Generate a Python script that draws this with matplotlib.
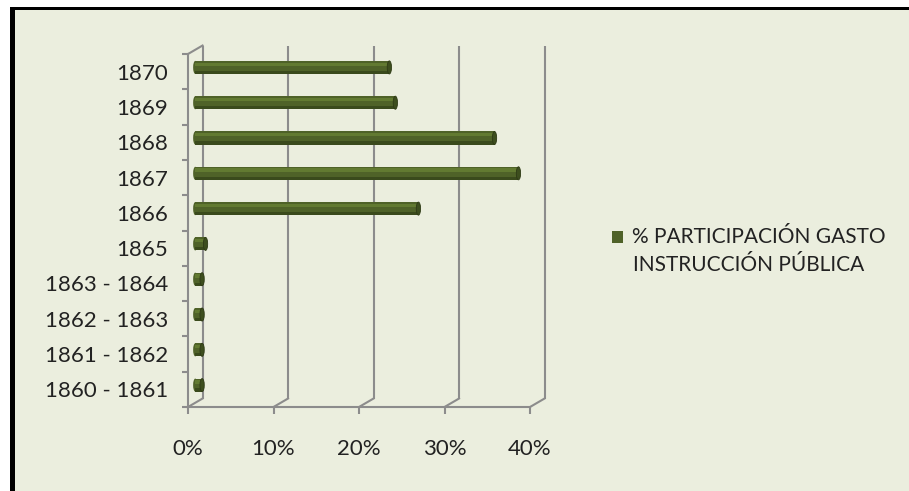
import matplotlib
matplotlib.use("Agg")
import matplotlib.pyplot as plt
from matplotlib.patches import Rectangle, Ellipse

# data, bottom to top as drawn
periods = ["1860 - 1861", "1861 - 1862", "1862 - 1863", "1863 - 1864", "1865",
           "1866", "1867", "1868", "1869", "1870"]
share_pct = [0.8, 0.8, 0.8, 0.8, 1.2, 26.1, 37.8, 35.0, 23.4, 22.7]
x_ticks = [0, 10, 20, 30, 40]
x_tick_labels = ["0%", "10%", "20%", "30%", "40%"]
legend_lines = ["% PARTICIPACIÓN GASTO", "INSTRUCCIÓN PÚBLICA"]

BG = "#ebeede"
GRID = "#8c8c8c"
INK = "#222222"
BAR = "#4f6228"
BAR_LIGHT = "#627a31"
BAR_DARK = "#3a4a1c"
CAP = "#3d4e1e"

plt.rcParams["font.family"] = ["Lato", "DejaVu Sans"]

W, H = 909, 491
fig = plt.figure(figsize=(W / 100, H / 100), dpi=100)
fig.patch.set_facecolor("white")

# chart area fill + black frame (top and left edges visible)
fig.add_artist(Rectangle((10 / W, 0), 1, 1 - 7 / H, transform=fig.transFigure,
                         facecolor=BG, edgecolor="none", zorder=0))
fig.add_artist(Rectangle((10 / W, 1 - 10 / H), 1, 3 / H, transform=fig.transFigure,
                         facecolor="black", edgecolor="none", zorder=1))
fig.add_artist(Rectangle((10 / W, 0), 5 / W, 1 - 7 / H, transform=fig.transFigure,
                         facecolor="black", edgecolor="none", zorder=1))

# front wall of the pseudo-3D plot: x 188..530 px, y 54..407 px
ax = fig.add_axes([188 / W, (H - 407) / H, 342 / W, 353 / H])
ax.set_facecolor("none")
ax.set_xlim(0, 40)
ax.set_ylim(-0.5, 9.5)

dx, dy = 1.70, 0.24   # depth offset in data units
y0, y1 = -0.5, 9.5

# back wall gridlines and floor joints
for v in x_ticks:
    ax.plot([v + dx, v + dx], [y0 + dy, y1 + dy], color=GRID, lw=1.5,
            clip_on=False, zorder=1, solid_capstyle="butt")
    ax.plot([v, v + dx], [y0, y0 + dy], color=GRID, lw=1.5, clip_on=False, zorder=1)
ax.plot([0, dx], [y1, y1 + dy], color=GRID, lw=1.5, clip_on=False, zorder=1)

# cylinder bars
bar_h = 0.37
shades = [BAR_DARK, BAR_DARK, BAR, BAR, BAR, BAR_LIGHT, BAR_LIGHT, BAR]
for i, val in enumerate(share_pct):
    yc = i + dy / 2
    left = dx / 2
    n = len(shades)
    strip = bar_h / n
    ax.add_patch(Ellipse((left, yc), 0.5, bar_h, facecolor=BAR, edgecolor="none",
                         zorder=3, clip_on=False))
    for k, c in enumerate(shades):
        ax.barh(yc - bar_h / 2 + strip * (k + 0.5), val, height=strip * 1.05,
                left=left, color=c, edgecolor="none", zorder=4)
    ax.add_patch(Ellipse((left + val, yc), 0.5, bar_h, facecolor=CAP,
                         edgecolor="#2e3a15", lw=0.6, zorder=5, clip_on=False))

for side in ["top", "right"]:
    ax.spines[side].set_visible(False)
for side in ["left", "bottom"]:
    ax.spines[side].set_color(GRID)
    ax.spines[side].set_linewidth(1.5)

ax.set_xticks(x_ticks)
ax.set_xticklabels(x_tick_labels)
ax.set_yticks(range(len(periods)))
ax.set_yticklabels(periods)
ax.set_yticks([k - 0.5 for k in range(len(periods) + 1)], minor=True)
ax.tick_params(axis="x", length=5, width=1.5, color=GRID, pad=18,
               labelsize=16, labelcolor=INK)
ax.tick_params(axis="y", which="major", length=0, pad=14.5,
               labelsize=16, labelcolor=INK)
ax.tick_params(axis="y", which="minor", length=4.3, width=1.5, color=GRID)

# legend
fig.add_artist(Rectangle((612 / W, 1 - 243 / H), 11 / W, 12 / H,
                         transform=fig.transFigure, facecolor=BAR,
                         edgecolor="none", zorder=2))
fig.text(632 / W, 1 - 237 / H, legend_lines[0], fontsize=15, color=INK,
         va="center", ha="left")
fig.text(633 / W, 1 - 265 / H, legend_lines[1], fontsize=15, color=INK,
         va="center", ha="left")

fig.savefig("out.png", dpi=100, facecolor=fig.get_facecolor())
